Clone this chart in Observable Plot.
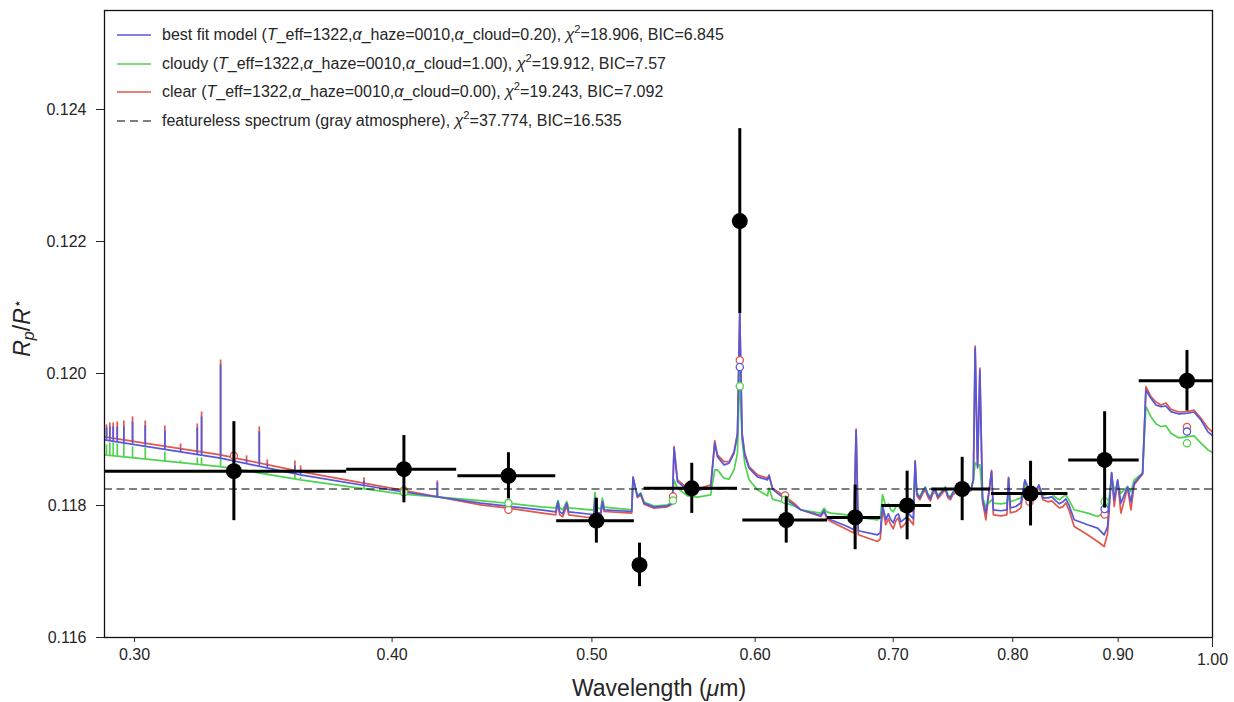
<!DOCTYPE html>
<html><head><meta charset="utf-8">
<script src="https://cdn.jsdelivr.net/npm/d3@7"></script>
<script src="https://cdn.jsdelivr.net/npm/@observablehq/plot@0.6"></script>
<style>
body{margin:0;background:#fff;font-family:"Liberation Sans",Arial,sans-serif;}
#wrap{position:relative;width:1234px;height:702px;overflow:hidden;}
#wrap svg{display:block;}
.lg{position:absolute;left:117px;font-size:16px;color:#262626;white-space:nowrap;display:flex;align-items:center;transform:translateY(-50%);}
.lg svg{margin-right:11px;}
.lbl{position:absolute;color:#262626;white-space:nowrap;transform:translate(-50%,-50%);}
sup{font-size:70%;line-height:0;vertical-align:0.6em;}
sub{font-size:70%;line-height:0;vertical-align:-0.3em;}
.star{font-size:60%;line-height:0;vertical-align:0.55em;}
</style></head><body>
<div id="wrap"></div>
<script>
// ---- model spectra (wavelength in micron, Rp/R*) ----
const wl = [0.2901,0.33026,0.36113,0.40383,0.44159,0.45817,0.47220,0.48019,0.48142,0.48233,0.48395,0.48612,0.48721,0.49934,0.50101,0.50174,0.50269,0.50494,0.50590,0.50692,0.52274,0.52350,0.52608,0.52802,0.52998,0.53593,0.54402,0.54706,0.54804,0.55013,0.55631,0.56256,0.57098,0.57353,0.57527,0.57953,0.58277,0.58604,0.58827,0.58978,0.59130,0.59308,0.59594,0.60156,0.60833,0.60942,0.61173,0.61742,0.62666,0.63137,0.64565,0.64804,0.65000,0.65291,0.66520,0.66990,0.67162,0.67328,0.68788,0.69004,0.69173,0.69428,0.69818,0.70209,0.70603,0.70998,0.71596,0.71739,0.71876,0.72360,0.72764,0.73172,0.73582,0.73994,0.74409,0.74826,0.75245,0.75920,0.76346,0.76559,0.76714,0.76919,0.77118,0.77351,0.77637,0.78133,0.78290,0.78950,0.79480,0.79631,0.79791,0.80283,0.80733,0.81095,0.81458,0.81822,0.82373,0.82742,0.83206,0.83952,0.84612,0.85181,0.85687,0.86980,0.87956,0.88608,0.88945,0.89343,0.89603,0.89945,0.90276,0.90954,0.91290,0.91628,0.92491,0.92834,0.93355,0.94403,0.95464,0.97261,0.98718,1.00163];
const bestFit = [0.118994,0.118717,0.118464,0.118212,0.118036,0.117980,0.117935,0.117904,0.118060,0.117904,0.117874,0.118036,0.117904,0.117867,0.117859,0.118112,0.117889,0.117889,0.118060,0.117935,0.117909,0.118433,0.118136,0.118177,0.118036,0.117975,0.117995,0.118036,0.118868,0.118363,0.118237,0.118227,0.118272,0.118944,0.118741,0.118616,0.118641,0.118793,0.119069,0.120915,0.119069,0.118767,0.118566,0.118433,0.118389,0.118449,0.118248,0.118147,0.118010,0.117935,0.117848,0.117924,0.117829,0.117783,0.117682,0.117632,0.119135,0.117617,0.117556,0.117587,0.118010,0.117783,0.117783,0.117844,0.117753,0.117814,0.117799,0.118665,0.118177,0.118212,0.118162,0.118207,0.118131,0.118222,0.118147,0.118192,0.118237,0.118252,0.118237,0.118389,0.120386,0.118570,0.120053,0.118086,0.117885,0.118514,0.117935,0.117920,0.117935,0.118414,0.117965,0.117985,0.118041,0.118389,0.118237,0.118131,0.118313,0.118116,0.118116,0.118071,0.118056,0.118010,0.117783,0.117708,0.117658,0.117556,0.117682,0.118499,0.118086,0.118389,0.118036,0.118287,0.118056,0.118339,0.118490,0.119750,0.119625,0.119498,0.119422,0.119398,0.119296,0.119044];
const cloudy = [0.118767,0.118590,0.118389,0.118177,0.118075,0.118025,0.117980,0.117965,0.118075,0.117965,0.117935,0.118060,0.117965,0.117935,0.117935,0.118196,0.117965,0.117950,0.118112,0.117975,0.117935,0.118389,0.118151,0.118192,0.118051,0.117990,0.118010,0.118051,0.118389,0.118263,0.118147,0.118127,0.118162,0.118540,0.118540,0.118414,0.118399,0.118540,0.118793,0.120023,0.118994,0.118641,0.118389,0.118237,0.118147,0.118263,0.118097,0.118060,0.117995,0.117935,0.117885,0.117960,0.117904,0.117885,0.117859,0.117833,0.117904,0.117821,0.117783,0.117814,0.118162,0.117985,0.117935,0.117980,0.117920,0.117965,0.117950,0.118540,0.118207,0.118237,0.118177,0.118222,0.118147,0.118237,0.118162,0.118207,0.118252,0.118268,0.118237,0.118389,0.118646,0.118616,0.118616,0.118116,0.117985,0.118086,0.118036,0.118025,0.118041,0.118136,0.118056,0.118086,0.118116,0.118313,0.118237,0.118162,0.118298,0.118147,0.118177,0.118116,0.118131,0.118086,0.117935,0.117885,0.117833,0.117885,0.117935,0.118433,0.118237,0.118313,0.118187,0.118283,0.118207,0.118389,0.118490,0.119498,0.119346,0.119195,0.119095,0.119044,0.118944,0.118793];
const clear = [0.119039,0.118767,0.118514,0.118237,0.118010,0.117950,0.117889,0.117859,0.118036,0.117859,0.117829,0.117995,0.117859,0.117814,0.117814,0.118086,0.117844,0.117844,0.118036,0.117909,0.117885,0.118419,0.118121,0.118162,0.118021,0.117960,0.117980,0.118021,0.118892,0.118389,0.118263,0.118248,0.118313,0.118983,0.118767,0.118665,0.118665,0.118817,0.119100,0.120930,0.119100,0.118793,0.118590,0.118464,0.118414,0.118464,0.118263,0.118177,0.118036,0.117935,0.117833,0.117909,0.117799,0.117758,0.117632,0.117582,0.119156,0.117556,0.117455,0.117496,0.117960,0.117708,0.117708,0.117768,0.117662,0.117738,0.117708,0.118681,0.118147,0.118187,0.118131,0.118177,0.118101,0.118192,0.118116,0.118162,0.118207,0.118222,0.118222,0.118389,0.120416,0.118590,0.120083,0.118056,0.117783,0.118532,0.117859,0.117844,0.117859,0.118426,0.117889,0.117909,0.117965,0.118374,0.118207,0.118086,0.118283,0.118086,0.118056,0.118010,0.117980,0.117935,0.117682,0.117556,0.117455,0.117379,0.117582,0.118495,0.117985,0.118374,0.117885,0.118268,0.117935,0.118313,0.118479,0.119800,0.119649,0.119523,0.119458,0.119422,0.119322,0.119095];

// ---- extra samples of the jagged (molecular band) parts of the spectra ----
const wlJag = [0.69623,0.70013,0.70406,0.70800,0.71236,0.72117,0.72562,0.72969,0.73378,0.73788,0.74202,0.74618,0.75037,0.75584,0.83577,0.84280,0.84894,0.93876,0.94931,0.96320,0.97948,0.99492];
const bestJag = [0.117874,0.117738,0.117874,0.117783,0.117874,0.118116,0.118268,0.118101,0.118237,0.118177,0.118268,0.118116,0.118222,0.118177,0.118131,0.118025,0.118101,0.119523,0.119508,0.119387,0.119417,0.119115];
const cloudyJag = [0.118025,0.117904,0.118010,0.117935,0.118010,0.118131,0.118283,0.118131,0.118252,0.118192,0.118283,0.118131,0.118237,0.118192,0.118177,0.118086,0.118162,0.119238,0.119208,0.119024,0.119054,0.118842];
const clearJag = [0.117799,0.117647,0.117814,0.117693,0.117799,0.118086,0.118237,0.118071,0.118207,0.118147,0.118237,0.118086,0.118192,0.118147,0.118071,0.117965,0.118041,0.119568,0.119553,0.119417,0.119447,0.119175];

// ---- narrow absorption lines in the blue part of the model spectra ----
const spikeWl = [0.29076,0.29183,0.29294,0.29426,0.29643,0.29933,0.30361,0.31033,0.31582,0.32177,0.32332,0.33026,0.33999,0.34485,0.34795,0.35884,0.36113,0.38760,0.42073];
const bestBase = [0.118989,0.118982,0.118973,0.118964,0.118948,0.118927,0.118897,0.118850,0.118812,0.118773,0.118762,0.118717,0.118635,0.118594,0.118570,0.118482,0.118464,0.118304,0.118131];
const bestTop = [0.119175,0.119190,0.119190,0.119190,0.119190,0.119266,0.119206,0.119130,0.118858,0.119175,0.119342,0.120129,0.118691,0.119115,0.118631,0.118600,0.118540,0.118373,0.118343];
const cloudyBase = [0.118764,0.118759,0.118753,0.118747,0.118738,0.118724,0.118705,0.118675,0.118650,0.118625,0.118619,0.118590,0.118525,0.118493,0.118473,0.118402,0.118389,0.118254,0.118130];
const cloudyTop = [0.118918,0.118948,0.118948,0.118933,0.118933,0.118888,0.118873,0.118812,0.118676,0.118721,0.118721,0.118737,0.118540,0.118525,0.118495,0.118464,0.118419,0.118298,0.118177];
const clearBase = [0.119035,0.119027,0.119020,0.119009,0.118994,0.118974,0.118944,0.118897,0.118861,0.118821,0.118811,0.118767,0.118685,0.118644,0.118620,0.118532,0.118514,0.118339,0.118133];
const clearTop = [0.119221,0.119251,0.119251,0.119266,0.119281,0.119342,0.119281,0.119206,0.118933,0.119236,0.119417,0.120204,0.118752,0.119190,0.118691,0.118676,0.118600,0.118419,0.118373];

// ---- binned model values (open circles) ----
const binWl = [0.3352,0.4053,0.4555,0.5474,0.5898,0.6204,0.8152,0.8865,0.9719];
const binBest = [null,null,null,null,0.120098,null,null,0.117946,0.119120];
const binCloudy = [null,0.118200,0.118036,0.118076,0.119806,0.118086,null,0.118060,0.118944];
const binClear = [0.118752,0.118227,0.117935,0.118136,0.120200,0.118151,0.118056,0.117864,0.119191];

// ---- observed transmission spectrum ----
const obsWl = [0.3352,0.4053,0.4555,0.5025,0.5273,0.5590,0.5898,0.6212,0.6709,0.7110,0.7561,0.8161,0.8865,0.9719];
const obsRp = [0.11852,0.11855,0.11845,0.11777,0.11710,0.11826,0.12231,0.11778,0.11782,0.11800,0.11825,0.11818,0.11869,0.11989];
const obsErr = [0.00075,0.00051,0.00035,0.00034,0.00033,0.00038,0.00140,0.00035,0.00049,0.00052,0.00048,0.00049,0.00073,0.00046];
const binLo = [0.2901,0.3802,0.4305,0.4807,0.5250,0.5300,0.5880,0.5918,0.6505,0.6912,0.7309,0.7813,0.8516,0.9214];
const binHi = [0.3802,0.4299,0.4802,0.5243,0.5300,0.5883,0.5920,0.6505,0.6904,0.7307,0.7807,0.8509,0.9214,1.0224];

const flatLevel = 0.11825;
const xTicks = [0.3,0.4,0.5,0.6,0.7,0.8,0.9];
const xMajor = [1.0];
const yTicks = [0.116,0.118,0.120,0.122,0.124];

const BLUE = "#5757db", GREEN = "#4fd24f", RED = "#e0574c";

const models = wl.map((w, i) => ({w, best: bestFit[i], cloudy: cloudy[i], clear: clear[i]}))
  .concat(wlJag.map((w, i) => ({w, best: bestJag[i], cloudy: cloudyJag[i], clear: clearJag[i]})))
  .sort((a, b) => a.w - b.w);
const spikes = spikeWl.map((w, i) => ({w, bB: bestBase[i], bT: bestTop[i], gB: cloudyBase[i], gT: cloudyTop[i], rB: clearBase[i], rT: clearTop[i]}));
const binRows = (vals) => binWl.map((w, i) => ({w, v: vals[i]})).filter(d => d.v != null);
const obs = obsWl.map((w, i) => ({w, rp: obsRp[i], lo: obsRp[i] - obsErr[i], hi: obsRp[i] + obsErr[i], x1: binLo[i], x2: binHi[i]}));

const SW = 1.7;
const chart = Plot.plot({
  width: 1234, height: 702,
  marginLeft: 104, marginRight: 22, marginTop: 10, marginBottom: 65,
  x: {type: "log", domain: [0.2901, 1.0]},
  y: {domain: [0.116, 0.1255]},
  style: {fontFamily: "'Liberation Sans', Arial, sans-serif", fontSize: "16px", color: "#262626", background: "white"},
  marks: [
    Plot.line(models, {x: "w", y: "clear", stroke: RED, strokeWidth: SW, clip: true}),
    Plot.ruleX(spikes, {x: "w", y1: "rB", y2: "rT", stroke: RED, strokeWidth: SW, clip: true}),
    Plot.line(models, {x: "w", y: "cloudy", stroke: GREEN, strokeWidth: SW, clip: true}),
    Plot.ruleX(spikes, {x: "w", y1: "gB", y2: "gT", stroke: GREEN, strokeWidth: SW, clip: true}),
    Plot.line(models, {x: "w", y: "best", stroke: BLUE, strokeWidth: SW, clip: true}),
    Plot.ruleX(spikes, {x: "w", y1: "bB", y2: "bT", stroke: BLUE, strokeWidth: SW, clip: true}),
    Plot.dot(binRows(binClear), {x: "w", y: "v", r: 3.6, stroke: RED, fill: "white", strokeWidth: 1.3}),
    Plot.dot(binRows(binCloudy), {x: "w", y: "v", r: 3.6, stroke: GREEN, fill: "white", strokeWidth: 1.3}),
    Plot.dot(binRows(binBest), {x: "w", y: "v", r: 3.6, stroke: BLUE, fill: "white", strokeWidth: 1.3}),
    Plot.ruleY([flatLevel], {stroke: "black", strokeWidth: 1.2, strokeDasharray: "8,4.5"}),
    Plot.ruleY(obs, {y: "rp", x1: "x1", x2: "x2", stroke: "black", strokeWidth: 3, clip: true}),
    Plot.ruleX(obs, {x: "w", y1: "lo", y2: "hi", stroke: "black", strokeWidth: 3}),
    Plot.dot(obs, {x: "w", y: "rp", r: 8, fill: "black"}),
    Plot.frame({stroke: "#111", strokeWidth: 1.3}),
    Plot.axisY({ticks: yTicks, tickFormat: d3.format(".3f"), tickSize: 8, tickPadding: 10, label: null, fontSize: 16}),
    Plot.axisX({ticks: xTicks, tickFormat: d3.format(".2f"), tickSize: 5, tickPadding: 6, label: null, fontSize: 16}),
    Plot.axisX({ticks: xMajor, tickFormat: d3.format(".2f"), tickSize: 10, tickPadding: 6, label: null, fontSize: 16})
  ]
});
const wrap = document.getElementById("wrap");
wrap.appendChild(chart);

// legend (inside the axes, upper left)
const legendRows = [
  {y: 35, color: BLUE, dash: null, html: 'best fit model (<i>T</i>_eff=1322,<i>α</i>_haze=0010,<i>α</i>_cloud=0.20), <i>χ</i><sup>2</sup>=18.906, BIC=6.845'},
  {y: 63.5, color: GREEN, dash: null, html: 'cloudy (<i>T</i>_eff=1322,<i>α</i>_haze=0010,<i>α</i>_cloud=1.00), <i>χ</i><sup>2</sup>=19.912, BIC=7.57'},
  {y: 92, color: RED, dash: null, html: 'clear (<i>T</i>_eff=1322,<i>α</i>_haze=0010,<i>α</i>_cloud=0.00), <i>χ</i><sup>2</sup>=19.243, BIC=7.092'},
  {y: 120.5, color: "black", dash: "8,5", html: 'featureless spectrum (gray atmosphere), <i>χ</i><sup>2</sup>=37.774, BIC=16.535'}
];
for (const r of legendRows) {
  const div = document.createElement("div");
  div.className = "lg";
  div.style.top = r.y + "px";
  div.innerHTML = `<svg width="34" height="8"><line x1="0" x2="34" y1="4" y2="4" stroke="${r.color}" stroke-width="${r.dash ? 1.2 : 1.7}" ${r.dash ? `stroke-dasharray="${r.dash}"` : ""}/></svg><span>${r.html}</span>`;
  wrap.appendChild(div);
}
// axis labels
const xl = document.createElement("div");
xl.className = "lbl";
xl.style.cssText = "left:659px;top:688px;font-size:23px;";
xl.innerHTML = 'Wavelength (<i>μ</i>m)';
wrap.appendChild(xl);
const yl = document.createElement("div");
yl.className = "lbl";
yl.style.cssText = "left:22px;top:328px;font-size:23px;transform:translate(-50%,-50%) rotate(-90deg);";
yl.innerHTML = '<i>R</i><sub><i>p</i></sub>/<i>R</i><span class="star">⋆</span>';
wrap.appendChild(yl);
</script>
</body></html>
